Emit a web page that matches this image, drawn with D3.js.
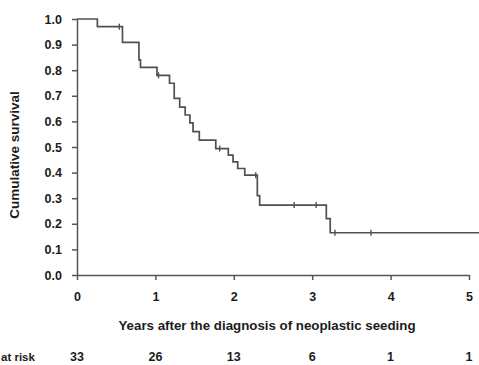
<!DOCTYPE html>
<html>
<head>
<meta charset="utf-8">
<script src="https://cdn.jsdelivr.net/npm/d3@7"></script>
<style>
  body { margin: 0; background: #fff; }
  svg { display: block; font-family: "Liberation Sans", Arial, sans-serif; }
  .axis path, .axis line { stroke: #555; stroke-width: 1.5; }
  .axis text { font-size: 12.5px; font-weight: bold; fill: #1c1c1c; }
</style>
</head>
<body>
<svg id="chart" width="479" height="365"></svg>
<script>
'use strict';

// Kaplan-Meier steps
const stepTimes = [0, 0.26, 0.58, 0.79, 0.81, 1.02, 1.18, 1.24, 1.31, 1.38, 1.44, 1.48, 1.56,
                   1.77, 1.93, 1.99, 2.05, 2.14, 2.30, 2.33, 3.18, 3.23];
const survival = [1.0, 0.97, 0.909, 0.84, 0.811, 0.78, 0.749, 0.69, 0.656, 0.625, 0.594, 0.56, 0.527,
                  0.494, 0.468, 0.442, 0.416, 0.39, 0.31, 0.273, 0.22, 0.165];
const censorTimes = [0.54, 1.04, 1.82, 2.28, 2.77, 3.05, 3.29, 3.75];
const followUpEnd = 5.15;

const yearTicks = [0, 1, 2, 3, 4, 5];
const atRisk = [33, 26, 13, 6, 1, 1];
const survivalTicks = [0, 0.1, 0.2, 0.3, 0.4, 0.5, 0.6, 0.7, 0.8, 0.9, 1.0];

const svg = d3.select('#chart');

const x = d3.scaleLinear().domain([0, 5]).range([77, 469]);
const y = d3.scaleLinear().domain([0, 1]).range([275, 19]);

// value of the curve at time t
const survAt = t => {
    let s = survival[0];
    stepTimes.forEach((st, i) => { if (st <= t) s = survival[i]; });
    return s;
};

// axes
svg.append('g')
    .attr('class', 'axis')
    .attr('transform', `translate(${x(0)},0)`)
    .call(d3.axisLeft(y).tickValues(survivalTicks).tickSize(5).tickSizeOuter(0)
        .tickPadding(10).tickFormat(d3.format('.1f')));

svg.append('g')
    .attr('class', 'axis')
    .attr('transform', `translate(0,${y(0)})`)
    .call(d3.axisBottom(x).tickValues(yearTicks).tickSize(5).tickSizeOuter(0)
        .tickPadding(12).tickFormat(d3.format('d')));

// survival curve
const pts = stepTimes.map((t, i) => [t, survival[i]]);
pts.push([followUpEnd, survival[survival.length - 1]]);

const line = d3.line()
    .x(d => x(d[0]))
    .y(d => y(d[1]))
    .curve(d3.curveStepAfter);

svg.append('path')
    .datum(pts)
    .attr('d', line)
    .attr('fill', 'none')
    .attr('stroke', '#505050')
    .attr('stroke-width', 1.7);

// censor marks
svg.append('g')
    .selectAll('line')
    .data(censorTimes)
    .enter()
    .append('line')
    .attr('x1', d => x(d))
    .attr('x2', d => x(d))
    .attr('y1', d => y(survAt(d)) - 3)
    .attr('y2', d => y(survAt(d)) + 3)
    .attr('stroke', '#505050')
    .attr('stroke-width', 1.4);

// axis titles
svg.append('text')
    .attr('transform', 'translate(19,155) rotate(-90)')
    .attr('text-anchor', 'middle')
    .style('font-size', '13.5px')
    .style('font-weight', 'bold')
    .attr('fill', '#1c1c1c')
    .text('Cumulative survival');

svg.append('text')
    .attr('x', 267)
    .attr('y', 330)
    .attr('text-anchor', 'middle')
    .style('font-size', '13.3px')
    .style('font-weight', 'bold')
    .attr('fill', '#1c1c1c')
    .text('Years after the diagnosis of neoplastic seeding');

// numbers at risk
svg.append('text')
    .attr('x', 1)
    .attr('y', 361)
    .attr('text-anchor', 'start')
    .style('font-size', '11.5px')
    .style('font-weight', 'bold')
    .attr('fill', '#1c1c1c')
    .text('at risk');

svg.append('g')
    .selectAll('text')
    .data(yearTicks)
    .enter()
    .append('text')
    .attr('x', d => x(d))
    .attr('y', 361)
    .attr('text-anchor', 'middle')
    .style('font-size', '12.5px')
    .style('font-weight', 'bold')
    .attr('fill', '#1c1c1c')
    .text((d, i) => atRisk[i]);
</script>
</body>
</html>
